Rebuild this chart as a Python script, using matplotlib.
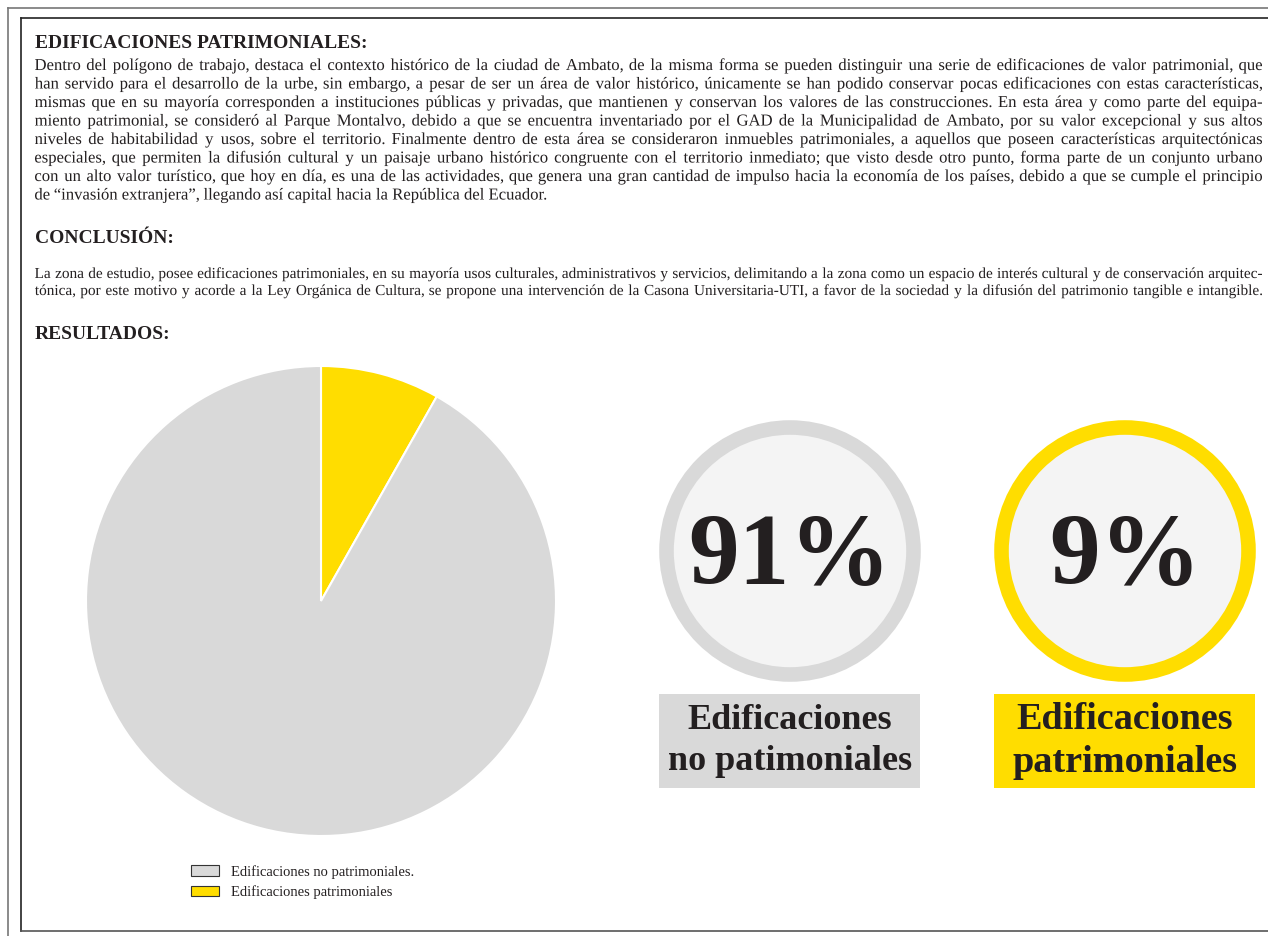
import matplotlib
matplotlib.use("Agg")
import matplotlib.pyplot as plt
import matplotlib.transforms as mtransforms
from matplotlib.patches import Circle, Rectangle, Patch, PathPatch
from matplotlib.textpath import TextPath
from matplotlib.font_manager import FontProperties

# ── Data ────────────────────────────────────────────────────────────────
categories = ["Edificaciones no patrimoniales.", "Edificaciones patrimoniales"]
shares = [91.8, 8.2]                     # pie sizes
pct_labels = ["91%", "9%"]
box_labels = ["Edificaciones\nno patimoniales", "Edificaciones\npatrimoniales"]

heading_1 = "EDIFICACIONES PATRIMONIALES:"
para_1 = [
    "Dentro del polígono de trabajo, destaca el contexto histórico de la ciudad de Ambato, de la misma forma se pueden distinguir una serie de edificaciones de valor patrimonial, que",
    "han servido para el desarrollo de la urbe, sin embargo, a pesar de ser un área de valor histórico, únicamente se han podido conservar pocas edificaciones con estas características,",
    "mismas que en su mayoría corresponden a instituciones públicas y privadas, que mantienen y conservan los valores de las construcciones. En esta área y como parte del equipa-",
    "miento patrimonial, se consideró al Parque Montalvo, debido a que se encuentra inventariado por el GAD de la Municipalidad de Ambato, por su valor excepcional y sus altos",
    "niveles de habitabilidad y usos, sobre el territorio. Finalmente dentro de esta área se consideraron inmuebles patrimoniales, a aquellos que poseen características arquitectónicas",
    "especiales, que permiten la difusión cultural y un paisaje urbano histórico congruente con el territorio inmediato; que visto desde otro punto, forma parte de un conjunto urbano",
    "con un alto valor turístico, que hoy en día, es una de las actividades, que genera una gran cantidad de impulso hacia la economía de los países, debido a que se cumple el principio",
    "de “invasión extranjera”, llegando así capital hacia la República del Ecuador.",
]
heading_2 = "CONCLUSIÓN:"
para_2 = [
    "La zona de estudio, posee edificaciones patrimoniales, en su mayoría usos culturales, administrativos y servicios, delimitando a la zona como un espacio de interés cultural y de conservación arquitec-",
    "tónica, por este motivo y acorde a la Ley Orgánica de Cultura, se propone una intervención de la Casona Universitaria-UTI, a favor de la sociedad y la difusión del patrimonio tangible e intangible.",
]
heading_3 = "RESULTADOS:"

GRAY, YELLOW, INNER, INK = "#d9d9d9", "#ffdd00", "#f4f4f4", "#231f20"
SERIF = "Liberation Serif"
W, H = 1268, 936

fig = plt.figure(figsize=(W / 100, H / 100), dpi=100)
fig.patch.set_facecolor("white")

# overlay axes in pixel coordinates (y down)
ax = fig.add_axes([0, 0, 1, 1])
ax.set_xlim(0, W)
ax.set_ylim(H, 0)
ax.axis("off")

# ── Frame lines ─────────────────────────────────────────────────────────
ax.plot([8, W], [8, 8], color="#777777", lw=1.2)
ax.plot([8, 8], [8, H], color="#777777", lw=1.2)
ax.plot([21, W], [17.5, 17.5], color="#222222", lw=1.2)
ax.plot([21, 21], [17.5, 931], color="#222222", lw=1.2)
ax.plot([21, W], [931, 931], color="#555555", lw=1.2)

LEFT, RIGHT = 35, 1262


def justified(lines, y0, step, size, justify_last=False):
    # words drawn as glyph paths so every word sits on the same baseline
    px = size * 100 / 72
    fp = FontProperties(family=SERIF)
    for i, line in enumerate(lines):
        words = line.split(" ")
        paths = [TextPath((0, 0), w, size=px, prop=fp) for w in words]
        exts = [p.get_extents() for p in paths]
        widths = [e.width for e in exts]
        last = i == len(lines) - 1
        if last and not justify_last:
            gap = px * 0.3
        else:
            gap = (RIGHT - LEFT - sum(widths)) / (len(words) - 1)
        x = LEFT
        y = y0 + i * step
        for p, e, w in zip(paths, exts, widths):
            tr = mtransforms.Affine2D().scale(1, -1).translate(x - e.x0, y)
            ax.add_patch(PathPatch(p, transform=tr + ax.transData,
                                   facecolor=INK, edgecolor="none"))
            x += w + gap


head_kw = dict(fontsize=14, family=SERIF, weight="bold", color=INK,
               va="baseline")
ax.text(LEFT, 48, heading_1, **head_kw)
justified(para_1, 70, 18.5, 12)

ax.text(LEFT, 243, heading_2, **head_kw)
justified(para_2, 278, 17, 11, justify_last=True)

ax.text(LEFT, 339, heading_3, **head_kw)

# ── Pie ─────────────────────────────────────────────────────────────────
cx, cy, r = 321, 601, 235
pax = fig.add_axes([(cx - r) / W, (H - cy - r) / H, 2 * r / W, 2 * r / H])
wedges, _ = pax.pie(shares[::-1], colors=[YELLOW, GRAY], startangle=90,
                    counterclock=False,
                    wedgeprops=dict(edgecolor="white", linewidth=1.5))
pax.set_xlim(-1, 1)
pax.set_ylim(-1, 1)

handles = [Patch(facecolor=GRAY, edgecolor="#333333", lw=0.8),
           Patch(facecolor=YELLOW, edgecolor="#333333", lw=0.8)]
fig.legend(handles, categories, loc="upper left",
           bbox_to_anchor=(191 / W, 1 - 865 / H), frameon=False,
           prop=dict(family=SERIF, size=10.5), labelcolor=INK,
           handlelength=1.9, handleheight=0.75, handletextpad=0.85,
           labelspacing=0.45, borderpad=0, borderaxespad=0)

# ── Percentage badges ───────────────────────────────────────────────────
centers = [790, 1125]
rings = [GRAY, YELLOW]
label_sizes = [26, 27.5]
for x, ring, pct, lab, ls in zip(centers, rings, pct_labels, box_labels,
                                 label_sizes):
    ax.add_patch(Circle((x, 551), 123.5, facecolor=INNER, edgecolor=ring,
                        lw=10.5))
    ax.text(x, 583, pct, fontsize=73, family=SERIF, weight="bold",
            color=INK, ha="center", va="baseline")
    ax.add_patch(Rectangle((x - 131, 694), 261, 94, facecolor=ring,
                           edgecolor="none"))
    ax.text(x, 741, lab, fontsize=ls, family=SERIF, weight="bold",
            color=INK, ha="center", va="center", linespacing=1.3)

fig.savefig("out.png", dpi=100)
